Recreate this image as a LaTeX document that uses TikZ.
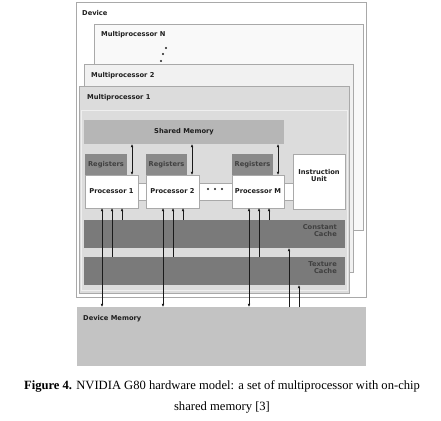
\documentclass[tikz,border=0pt]{standalone}
\usepackage{fontspec}
\setmainfont{Liberation Serif}
\newfontfamily\diagfont{DejaVu Sans}
\usepackage{tikz}
\usetikzlibrary{arrows.meta,calc,positioning}
\definecolor{frameline}{HTML}{A9A9A9}
\definecolor{devfill}{HTML}{FFFFFF}
\definecolor{mpnfill}{HTML}{F9F9F9}
\definecolor{mptwofill}{HTML}{F1F1F1}
\definecolor{mponefill}{HTML}{DCDCDC}
\definecolor{smemfill}{HTML}{B6B6B6}
\definecolor{regfill}{HTML}{8A8A8A}
\definecolor{cachefill}{HTML}{7A7A7A}
\definecolor{dmemfill}{HTML}{C3C3C3}
\definecolor{inktext}{HTML}{1E1E1E}
\definecolor{softtext}{HTML}{404040}
\definecolor{arrowc}{HTML}{1A1A1A}
\tikzset{
  blk/.style={draw=frameline, fill=#1, line width=0.6pt, anchor=north west,
    inner sep=0pt, outer sep=0pt},
  lbl/.style={font=\diagfont\bfseries\fontsize{6.7}{7.8}\selectfont, text=inktext, inner sep=0pt},
  dimlbl/.style={lbl, text=softtext},
  biarrow/.style={{Latex[length=3.2pt,width=2.8pt]}-{Latex[length=3.2pt,width=2.8pt]}, line width=0.6pt, draw=arrowc},
  uparrow/.style={-{Latex[length=3.2pt,width=2.8pt]}, line width=0.6pt, draw=arrowc},
}
\begin{document}
\begin{tikzpicture}[x=1pt,y=-1pt]
  \useasboundingbox (0,0) rectangle (441,420);
  % stacked frames
  \node[blk=devfill, minimum width=290, minimum height=295] (dev) at (76,2) {};
  \node[lbl, anchor=west] (devtxt) at (82,13) {Device};
  \node[blk=mpnfill, minimum width=269, minimum height=206] (mpN) at (94,24) {};
  \node[lbl, anchor=west] (mpNtxt) at (101,35) {Multiprocessor N};
  \fill[inktext] (166,48) circle (1.2) (163,54) circle (1.2) (161,61) circle (1.2);
  \node[blk=mptwofill, minimum width=269, minimum height=208] (mp2) at (84,64) {};
  \node[lbl, anchor=west] (mp2txt) at (91,76) {Multiprocessor 2};
  \node[blk=mponefill, minimum width=270, minimum height=207] (mp1) at (79,86) {};
  \draw[white!55!mponefill, line width=0.6pt] ($(mp1.north west)+(2,24)$) rectangle ($(mp1.south east)+(-2,-3)$);
  \node[lbl, anchor=west] (mp1txt) at (87,98) {Multiprocessor 1};
  % shared memory, registers, processors
  \node[blk=smemfill, draw=none, minimum width=200, minimum height=24] (smem) at (84,120) {};
  \node[lbl] at (smem.center) {Shared Memory};
  \node[blk=white, minimum width=155, minimum height=17] (bus) at (138,183) {};
  \node[blk=regfill, draw=none, minimum width=42, minimum height=21] (reg1) at (85,154) {};
  \node[blk=regfill, draw=none, minimum width=41, minimum height=21] (reg2) at (146,154) {};
  \node[blk=regfill, draw=none, minimum width=41, minimum height=21] (regM) at (232,154) {};
  \foreach \r in {reg1,reg2,regM}
    \node[dimlbl] at (\r.center) {Registers};
  \node[blk=white, minimum width=53, minimum height=33] (p1) at (85,175) {};
  \node[blk=white, minimum width=53, minimum height=33] (p2) at (146,175) {};
  \node[blk=white, minimum width=52, minimum height=33] (pM) at (232,175) {};
  \node[lbl] at (p1.center) {Processor 1};
  \node[lbl] at (p2.center) {Processor 2};
  \node[lbl] at (pM.center) {Processor M};
  \fill[inktext] (208,189) circle (1.2) (215,189) circle (1.2) (222,189) circle (1.2);
  \node[blk=white, minimum width=52, minimum height=55] (iu) at (293,154) {};
  \node[lbl, align=center] at ($(iu.center)+(0,-6)$) {Instruction\\Unit};
  % caches and device memory
  \node[blk=cachefill, draw=none, minimum width=261, minimum height=28] (ccache) at (84,220) {};
  \node[dimlbl, align=right, anchor=north east] at ($(ccache.north east)+(-8,4)$) {Constant\\Cache};
  \node[blk=cachefill, draw=none, minimum width=261, minimum height=28] (tcache) at (84,257) {};
  \node[dimlbl, align=right, anchor=north east] at ($(tcache.north east)+(-8,4)$) {Texture\\Cache};
  \node[blk=dmemfill, draw=none, minimum width=289, minimum height=59] (dmem) at (77,307) {};
  \node[lbl, anchor=west] at ($(dmem.north west)+(6,12)$) {Device Memory};
  % connections
  \foreach \p/\r in {p1/reg1,p2/reg2,pM/regM}{
    \path (\p.south west) ++(17,0) coordinate (\p-mem) ++(10,0) coordinate (\p-tex) ++(10,0) coordinate (\p-con);
    \path (\r.north east) ++(5,0) coordinate (\p-sh);
    \draw[biarrow] (\p-sh |- smem.south) -- (\p-sh |- \p.north);
    \draw[biarrow] (\p-mem) -- (\p-mem |- dmem.north);
    \draw[uparrow] (\p-tex |- tcache.north) -- (\p-tex);
    \draw[uparrow] (\p-con |- ccache.north) -- (\p-con);
  }
  \coordinate (cport) at ($(dmem.north west)+(212,0)$);
  \coordinate (tport) at ($(dmem.north west)+(222,0)$);
  \draw[uparrow] (cport) -- (cport |- ccache.south);
  \draw[uparrow] (tport) -- (tport |- tcache.south);
  % caption
  \node[align=center, font=\fontsize{12.6}{21.5}\selectfont, inner sep=0pt] (cap) at (222,397)
    {\textbf{Figure 4.} NVIDIA G80 hardware model: a set of multiprocessor with on-chip\\shared memory [3]};
\end{tikzpicture}
\end{document}
